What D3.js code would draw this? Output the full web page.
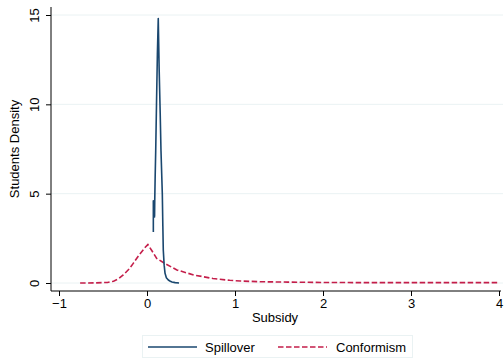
<!DOCTYPE html>
<html>
<head>
<meta charset="utf-8">
<script src="https://cdn.jsdelivr.net/npm/d3@7"></script>
<style>
  body { margin: 0; background: #fff; }
  text { font-family: "Liberation Sans", Arial, sans-serif; fill: #000; }
</style>
</head>
<body>
<div id="chart"></div>
<script>
// tick values
var xTicks = [-1, 0, 1, 2, 3, 4]
var yTicks = [0, 5, 10, 15]

// Spillover density
var spillX = [0.072, 0.072, 0.086, 0.088, 0.093, 0.099, 0.108, 0.118, 0.128, 0.138, 0.150, 0.159, 0.174, 0.180, 0.185, 0.195, 0.205, 0.220, 0.242, 0.265, 0.284, 0.32, 0.364]
var spillY = [2.85, 4.6, 3.7, 4.6, 6.0, 7.4, 10.0, 12.8, 14.8, 12.0, 9.5, 7.4, 5.0, 3.2, 1.85, 1.0, 0.54, 0.3, 0.17, 0.1, 0.06, 0.02, 0.0]

// Conformism density
var confX = [-0.76, -0.6, -0.45, -0.38, -0.32, -0.27, -0.2, -0.156, -0.1, -0.06, -0.02, 0.01, 0.05, 0.11, 0.2, 0.34, 0.53, 0.75, 0.94, 1.06, 1.3, 1.6, 2, 2.5, 3, 3.5, 4]
var confY = [0, 0.005, 0.03, 0.1, 0.25, 0.45, 0.8, 1.1, 1.5, 1.75, 2.0, 2.15, 1.85, 1.38, 1.1, 0.73, 0.45, 0.25, 0.15, 0.11, 0.07, 0.05, 0.03, 0.02, 0.02, 0.02, 0.02]

var seriesNames = ['Spillover', 'Conformism']
var colors = ['#1a476f', '#c41e4a']

var width = 504, height = 362
var plot = { left: 51, right: 503, top: 7, bottom: 291 }

var svg = d3.select('#chart')
  .append('svg')
  .attr('width', width)
  .attr('height', height)

var x = d3.scaleLinear().domain([-1, 4]).range([59, 499])
var y = d3.scaleLinear().domain([0, 15]).range([283, 15])

// gridlines
svg.selectAll('.grid')
  .data(yTicks)
  .enter()
  .append('line')
  .attr('x1', plot.left)
  .attr('x2', plot.right)
  .attr('y1', function(d) { return y(d) })
  .attr('y2', function(d) { return y(d) })
  .attr('stroke', '#eaf2f3')
  .attr('stroke-width', 1)

// y axis
var yAxis = svg.append('g')
  .attr('transform', 'translate(' + plot.left + ',0)')
  .call(d3.axisLeft(y).tickValues(yTicks).tickSize(5).tickPadding(4))
yAxis.select('.domain').attr('d', 'M0,' + plot.top + 'V' + plot.bottom).attr('stroke', '#000')
yAxis.selectAll('.tick line').attr('stroke', '#000')
yAxis.selectAll('.tick text')
  .attr('font-size', 13)
  .attr('text-anchor', 'middle')
  .attr('transform', 'rotate(-90)')
  .attr('x', 0)
  .attr('y', -17)
  .attr('dy', '0.35em')
  .attr('fill', '#000')

// x axis
var xAxis = svg.append('g')
  .attr('transform', 'translate(0,' + plot.bottom + ')')
  .call(d3.axisBottom(x).tickValues(xTicks).tickSize(5).tickPadding(3)
    .tickFormat(function(d) { return d < 0 ? '\u2212' + Math.abs(d) : d }))
xAxis.select('.domain').attr('d', 'M' + plot.left + ',0H' + 501).attr('stroke', '#000')
xAxis.selectAll('.tick line').attr('stroke', '#000')
xAxis.selectAll('.tick text').attr('font-size', 13).attr('fill', '#000')

// axis titles
svg.append('text')
  .attr('x', (plot.left + 499) / 2)
  .attr('y', 322)
  .attr('text-anchor', 'middle')
  .attr('font-size', 13)
  .text('Subsidy')

svg.append('text')
  .attr('transform', 'translate(19,' + ((plot.top + plot.bottom) / 2) + ') rotate(-90)')
  .attr('text-anchor', 'middle')
  .attr('font-size', 13)
  .text('Students Density')

// lines
var line = d3.line()
  .x(function(d) { return x(d[0]) })
  .y(function(d) { return y(d[1]) })

var confData = d3.zip(confX, confY)
var spillData = d3.zip(spillX, spillY)

svg.append('path')
  .datum(confData)
  .attr('d', line)
  .attr('fill', 'none')
  .attr('stroke', colors[1])
  .attr('stroke-width', 1.6)
  .attr('stroke-dasharray', '5.5,2.5')

svg.append('path')
  .datum(spillData)
  .attr('d', line)
  .attr('fill', 'none')
  .attr('stroke', colors[0])
  .attr('stroke-width', 1.6)
  .attr('stroke-linejoin', 'round')

// legend
var legend = svg.append('g')
legend.append('rect')
  .attr('x', 142.5)
  .attr('y', 335.5)
  .attr('width', 270)
  .attr('height', 22)
  .attr('fill', '#fff')
  .attr('stroke', '#eaf2f3')

var legX = [148, 278]
var legTextX = [205, 336]
seriesNames.forEach(function(name, i) {
  legend.append('line')
    .attr('x1', legX[i])
    .attr('x2', legX[i] + 49)
    .attr('y1', 347)
    .attr('y2', 347)
    .attr('stroke', colors[i])
    .attr('stroke-width', 1.6)
    .attr('stroke-dasharray', i == 1 ? '5.5,2.5' : null)
  legend.append('text')
    .attr('x', legTextX[i])
    .attr('y', 347)
    .attr('dy', '0.35em')
    .attr('font-size', 13)
    .text(name)
})
</script>
</body>
</html>
